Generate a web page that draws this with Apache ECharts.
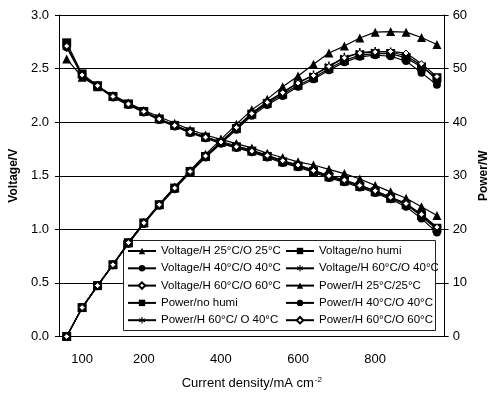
<!DOCTYPE html>
<html>
<head>
<meta charset="utf-8">
<script src="https://cdn.jsdelivr.net/npm/echarts@6/dist/echarts.min.js"></script>
<style>
  html, body { margin: 0; padding: 0; background: #fff; }
  #chart { width: 498px; height: 395px; }
</style>
</head>
<body>
<div id="chart"></div>
<script>
// current density categories (mA cm-2)
const current = [0, 40, 80, 120, 160, 200, 240, 280, 320, 360, 400, 440, 480,
  520, 560, 600, 640, 680, 720, 760, 800, 840, 880, 920, 960];
// only some categories get a label
const xTickIdx = [1, 5, 10, 15, 20];
const xTickText = ['100', '200', '400', '600', '800'];

// voltage (V)
const v2525 = [2.59, 2.42, 2.33, 2.25, 2.18, 2.11, 2.05, 1.99, 1.93, 1.88, 1.84, 1.80, 1.76, 1.71, 1.67, 1.63, 1.60, 1.56, 1.52, 1.47, 1.41, 1.35, 1.29, 1.21, 1.13];
const vNoHumi = [2.74, 2.45, 2.34, 2.24, 2.17, 2.10, 2.03, 1.97, 1.91, 1.86, 1.81, 1.77, 1.73, 1.68, 1.63, 1.59, 1.54, 1.49, 1.45, 1.40, 1.35, 1.29, 1.23, 1.13, 1.01];
const v4040 = [2.70, 2.43, 2.33, 2.23, 2.16, 2.09, 2.02, 1.96, 1.90, 1.85, 1.80, 1.76, 1.72, 1.67, 1.62, 1.58, 1.53, 1.48, 1.44, 1.39, 1.34, 1.28, 1.21, 1.10, 0.97];
const v6040 = [2.70, 2.44, 2.34, 2.24, 2.17, 2.10, 2.03, 1.97, 1.91, 1.86, 1.82, 1.78, 1.74, 1.69, 1.64, 1.60, 1.55, 1.50, 1.46, 1.41, 1.36, 1.30, 1.24, 1.12, 1.00];
const v6060 = [2.71, 2.44, 2.34, 2.24, 2.17, 2.10, 2.03, 1.97, 1.91, 1.86, 1.81, 1.77, 1.73, 1.69, 1.64, 1.60, 1.55, 1.50, 1.46, 1.41, 1.36, 1.30, 1.24, 1.14, 1.02];

// power (W)
const p2525 = [0, 5.4, 9.5, 13.5, 17.5, 21.3, 24.7, 27.9, 31.0, 34.0, 36.8, 39.6, 42.3, 44.3, 46.6, 48.6, 50.8, 52.9, 54.2, 55.7, 56.8, 56.9, 56.8, 55.8, 54.5];
const pNoHumi = [0, 5.4, 9.5, 13.4, 17.5, 21.2, 24.6, 27.7, 30.8, 33.6, 36.2, 38.8, 41.5, 43.5, 45.2, 46.9, 48.3, 50.0, 51.5, 52.5, 52.8, 52.8, 52.0, 50.3, 48.3];
const p4040 = [0, 5.3, 9.4, 13.3, 17.3, 21.0, 24.4, 27.5, 30.6, 33.4, 36.0, 38.6, 41.2, 43.2, 44.9, 46.6, 48.0, 49.7, 51.2, 52.2, 52.5, 52.3, 51.4, 49.2, 47.0];
const p6040 = [0, 5.4, 9.5, 13.4, 17.5, 21.2, 24.6, 27.7, 30.8, 33.7, 36.3, 39.0, 41.7, 43.8, 45.6, 47.4, 48.8, 50.5, 52.1, 53.0, 53.2, 53.1, 52.4, 50.6, 47.8];
const p6060 = [0, 5.4, 9.5, 13.4, 17.5, 21.2, 24.6, 27.7, 30.8, 33.7, 36.3, 39.0, 41.6, 43.7, 45.5, 47.3, 48.7, 50.4, 52.0, 52.9, 53.1, 53.2, 52.9, 50.9, 48.5];

const names = [
  'Voltage/H 25°C/O 25°C', 'Voltage/no humi',
  'Voltage/H 40°C/O 40°C', 'Voltage/H 60°C/O 40°C',
  'Voltage/H 60°C/O 60°C', 'Power/H 25°C/25°C',
  'Power/no humi', 'Power/H 40°C/O 40°C',
  'Power/H 60°C/ O 40°C', 'Power/H 60°C/O 60°C'
];

const FONT = 'Liberation Sans, Arial, sans-serif';
// asterisk marker
const star = 'path://M-0.8,-5 L0.8,-5 L0.8,5 L-0.8,5 Z M3.93,3.19 L4.73,1.81 L-3.93,-3.19 L-4.73,-1.81 Z M4.73,-1.81 L3.93,-3.19 L-4.73,1.81 L-3.93,3.19 Z';

function mk(name, data, axis, symbol, size, open) {
  return {
    name: name,
    type: 'line',
    yAxisIndex: axis,
    data: data,
    symbol: symbol,
    symbolSize: size,
    lineStyle: { color: '#000', width: 1.2 },
    itemStyle: open
      ? { color: '#fff', borderColor: '#000', borderWidth: 1 }
      : { color: '#000', borderWidth: 0 },
    emphasis: { disabled: true },
    animation: false
  };
}

const legendBase = {
  orient: 'vertical',
  top: 244,
  padding: 0,
  itemWidth: 28, itemHeight: 8, itemGap: 3.3,
  textStyle: { fontSize: 11.5, color: '#000', lineHeight: 14, fontFamily: FONT },
  z: 5
};

const chart = echarts.init(document.getElementById('chart'));
chart.setOption({
  backgroundColor: '#fff',
  animation: false,
  textStyle: { fontFamily: FONT, color: '#000' },
  grid: { left: 53, right: 37, top: 15, bottom: 58 },
  xAxis: {
    type: 'category',
    data: current,
    boundaryGap: true,
    name: 'Current density/mA cm{sup|-2}',
    nameLocation: 'middle',
    nameGap: 39,
    nameTextStyle: {
      fontSize: 13, color: '#000', fontFamily: FONT,
      rich: { sup: { fontSize: 8, verticalAlign: 'top', padding: [0, 0, 8, 1], fontFamily: FONT } }
    },
    axisLine: { lineStyle: { color: '#000', width: 1 } },
    axisTick: {
      inside: true, length: 5, lineStyle: { color: '#000' },
      interval: function (i) { return i % 3 === 0; }
    },
    axisLabel: {
      color: '#000', fontSize: 13, margin: 16, fontFamily: FONT,
      interval: function (i) { return xTickIdx.indexOf(i) >= 0; },
      formatter: function (v, i) {
        const k = xTickIdx.indexOf(i);
        return k >= 0 ? xTickText[k] : '';
      }
    },
    splitLine: { show: false }
  },
  yAxis: [{
    type: 'value',
    min: 0, max: 3, interval: 0.5,
    name: 'Voltage/V',
    nameLocation: 'middle',
    nameGap: 35,
    nameTextStyle: { fontSize: 12, fontWeight: 'bold', color: '#000', fontFamily: FONT },
    axisLine: { show: true, lineStyle: { color: '#000' } },
    axisTick: { show: true, length: 4, lineStyle: { color: '#000' } },
    axisLabel: {
      color: '#000', fontSize: 13, margin: 10, fontFamily: FONT,
      formatter: function (v) { return v.toFixed(1); }
    },
    splitLine: { show: true, lineStyle: { color: '#000', width: 1 } }
  }, {
    type: 'value',
    min: 0, max: 60, interval: 10,
    name: 'Power/W',
    nameLocation: 'middle',
    nameGap: 24,
    nameTextStyle: { fontSize: 12, fontWeight: 'bold', color: '#000', fontFamily: FONT },
    axisLine: { show: true, lineStyle: { color: '#000' } },
    axisTick: { show: true, length: 4, lineStyle: { color: '#000' } },
    axisLabel: { color: '#000', fontSize: 13, margin: 8, fontFamily: FONT },
    splitLine: { show: false }
  }],
  graphic: [{
    type: 'rect',
    z: 3,
    shape: { x: 123.5, y: 240.5, width: 312, height: 90 },
    style: { fill: '#fff', stroke: '#222', lineWidth: 1 }
  }],
  legend: [
    Object.assign({}, legendBase, { left: 127, data: [names[0], names[2], names[4], names[6], names[8]] }),
    Object.assign({}, legendBase, { left: 285, data: [names[1], names[3], names[5], names[7], names[9]] })
  ],
  series: [
    mk(names[0], v2525, 0, 'triangle', 9, false),
    mk(names[1], vNoHumi, 0, 'rect', 9, false),
    mk(names[2], v4040, 0, 'circle', 8, false),
    mk(names[3], v6040, 0, star, 9, false),
    mk(names[4], v6060, 0, 'diamond', 6, true),
    mk(names[5], p2525, 1, 'triangle', 9, false),
    mk(names[6], pNoHumi, 1, 'rect', 9, false),
    mk(names[7], p4040, 1, 'circle', 8, false),
    mk(names[8], p6040, 1, star, 9, false),
    mk(names[9], p6060, 1, 'diamond', 6, true)
  ]
});
</script>
</body>
</html>
